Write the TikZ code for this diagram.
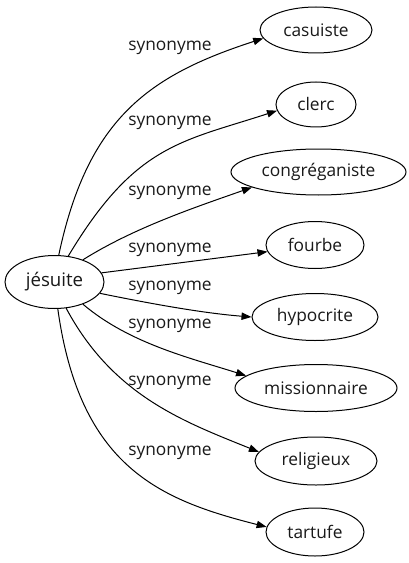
\documentclass[tikz,border=0pt]{standalone}
\usepackage{fontspec}
\setmainfont{Open Sans}
\usetikzlibrary{shapes.geometric,arrows.meta}
\begin{document}
\begin{tikzpicture}[x=0.75pt,y=0.75pt,
  every node/.style={font=\fontsize{13}{15}\selectfont, text=black!90},
  term/.style={draw, ellipse, line width=0.75pt, inner sep=0pt},
  lbl/.style={inner sep=0pt},
  link/.style={line width=0.75pt, -{Triangle[length=7.5pt,width=5.5pt]}}]
\useasboundingbox (0,0) rectangle (408,-563);
\node[term, minimum width=74.25pt, minimum height=39.75pt, font=\fontsize{14}{16}\selectfont] (j) at (54.5,-282) {jésuite};
\node[term, minimum width=84pt, minimum height=34.5pt] (casuiste) at (316,-30) {casuiste};
\node[term, minimum width=60pt, minimum height=33.75pt] (clerc) at (316,-104.5) {clerc};
\node[term, minimum width=131.25pt, minimum height=34.5pt] (congreganiste) at (318.5,-172) {congréganiste};
\node[term, minimum width=73.5pt, minimum height=35.25pt] (fourbe) at (315,-245) {fourbe};
\node[term, minimum width=94.5pt, minimum height=35.25pt] (hypocrite) at (315,-317) {hypocrite};
\node[term, minimum width=121.5pt, minimum height=35.25pt] (missionnaire) at (316,-388) {missionnaire};
\node[term, minimum width=91.5pt, minimum height=36pt] (religieux) at (316,-461) {religieux};
\node[term, minimum width=73.5pt, minimum height=36pt] (tartufe) at (315,-532) {tartufe};

\draw[link] (j.81) .. controls +(29,137) and +(-114,-37) .. (casuiste.189);
\draw[link] (j.62) .. controls +(67,112) and +(-95,-31) .. (clerc.189);
\draw[link] (j.38) .. controls +(51,32) and +(-57,-20) .. (congreganiste.193);
\draw[link] (j.11) -- (fourbe.188.5);
\draw[link] (j.346) .. controls +(49,-10) and +(-50,4) .. (hypocrite.180);
\draw[link] (j.322) .. controls +(46,-39) and +(-57,18) .. (missionnaire.170);
\draw[link] (j.294) .. controls +(47,-88) and +(-74,30) .. (religieux.171);
\draw[link] (j.277) .. controls +(22,-158) and +(-107,27) .. (tartufe.174);

\node[lbl] (l1) at (170,-48) {synonyme};
\node[lbl] (l2) at (170,-123) {synonyme};
\node[lbl] (l3) at (170,-193) {synonyme};
\node[lbl] (l4) at (170,-250) {synonyme};
\node[lbl] (l5) at (170,-288) {synonyme};
\node[lbl] (l6) at (170,-326) {synonyme};
\node[lbl] (l7) at (170,-383) {synonyme};
\node[lbl] (l8) at (170,-453) {synonyme};
\end{tikzpicture}
\end{document}
